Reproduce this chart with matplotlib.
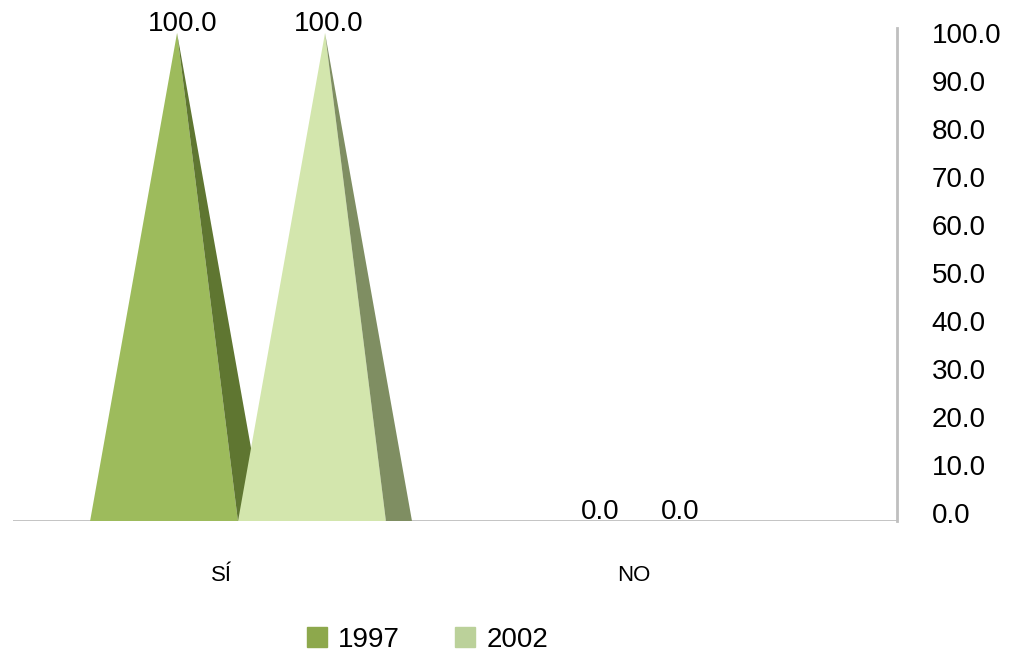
import numpy as np
import matplotlib
matplotlib.use('Agg')
import matplotlib.pyplot as plt
from matplotlib.patches import Patch

plt.rcParams['font.family'] = ['Liberation Sans', 'DejaVu Sans']

# data
categories = ['SÍ', 'NO']
series_names = ['1997', '2002']
values_1997 = [100.0, 0.0]
values_2002 = [100.0, 0.0]
y_ticks = np.arange(0, 101, 10)

# styling
front_colors = ['#9DBB5C', '#D3E6AD']
side_colors = ['#5F7631', '#7F8E62']
legend_colors = ['#8DA84C', '#BBD19A']
cone_offsets = [-0.109, 0.25]      # cone centre relative to category
label_offsets = [[-0.095, 0.26], [-0.083, 0.112]]  # per category, per series
cone_width = 0.422
front_frac = 0.85

fig = plt.figure(figsize=(10.09, 6.58), dpi=100)
ax = fig.add_axes([0.0129, 0.2082, 0.8762, 0.7492])

x = np.arange(len(categories))
all_values = [values_1997, values_2002]

for s, vals in enumerate(all_values):
    for i, v in enumerate(vals):
        c = x[i] + cone_offsets[s]
        left = c - cone_width / 2
        mid = left + front_frac * cone_width
        right = c + cone_width / 2
        ax.fill([c, left, mid], [v, 0, 0], color=front_colors[s], lw=0, zorder=2 + s)
        ax.fill([c, mid, right], [v, 0, 0], color=side_colors[s], lw=0, zorder=2 + s)
        ax.annotate(f'{v:.1f}', (x[i] + label_offsets[i][s], v), xytext=(0, 1.5),
                    textcoords='offset points', ha='center', va='baseline',
                    fontsize=20, zorder=5)

ax.set_xlim(-0.507, 1.638)
ax.set_ylim(0, 101.0)
ax.axhline(0, color='#BFBFBF', lw=2, zorder=1)

for sp in ['top', 'left', 'bottom']:
    ax.spines[sp].set_visible(False)
ax.spines['right'].set_color('#BFBFBF')
ax.spines['right'].set_linewidth(2)

ax.set_xticks(x)
ax.set_xticklabels(categories, fontsize=16)
ax.tick_params(axis='x', length=0, pad=32)
ax.set_yticks([])

# value axis labels sit slightly lower (back wall of the 3D chart)
ax2 = ax.twinx()
ax2.set_ylim(-1.61, 101.0)
ax2.set_yticks(y_ticks)
ax2.set_yticklabels([f'{t:.1f}' for t in y_ticks], fontsize=20)
ax2.tick_params(axis='y', length=0, pad=25)
for sp in ax2.spines.values():
    sp.set_visible(False)

handles = [Patch(color=legend_colors[k], label=series_names[k]) for k in range(2)]
fig.legend(handles=handles, loc='center', bbox_to_anchor=(0.4237, 0.028), ncol=2,
           frameon=False, fontsize=20, handlelength=0.72, handleheight=0.7,
           handletextpad=0.4, columnspacing=2.0, borderaxespad=0, borderpad=0)

fig.savefig('out.png', dpi=100)
